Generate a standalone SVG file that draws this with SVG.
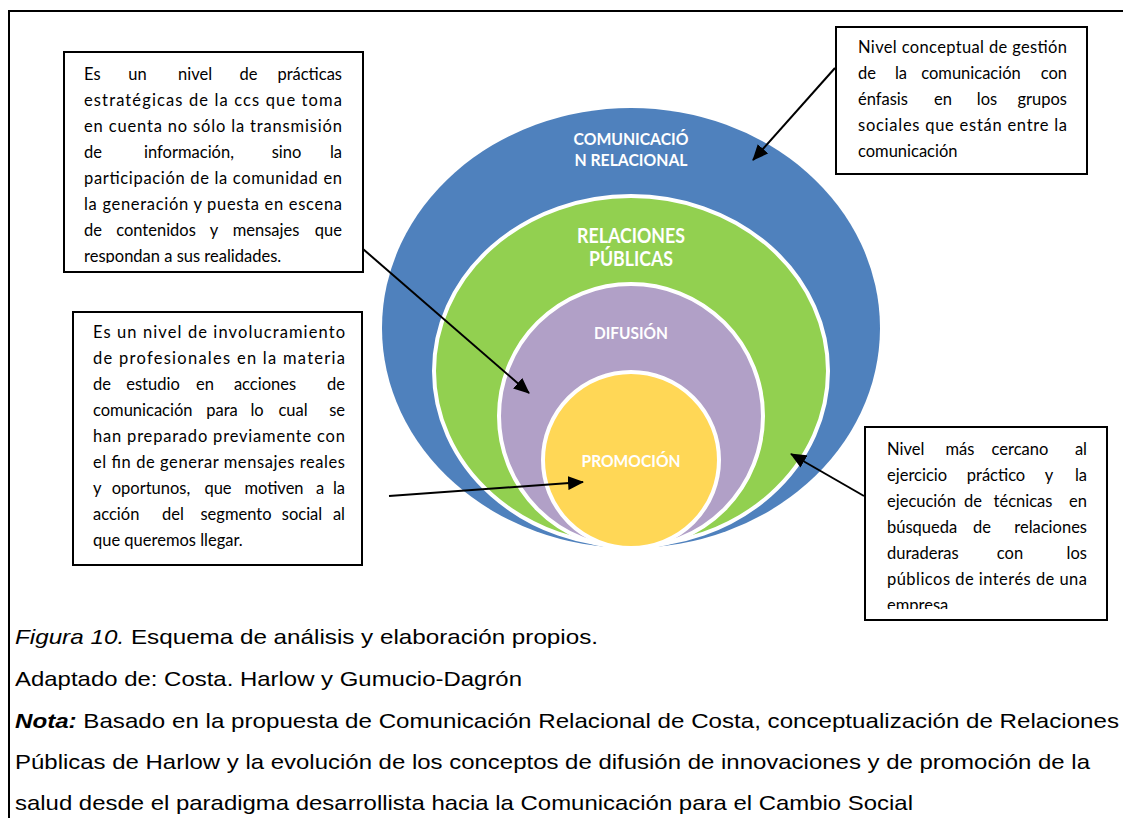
<svg xmlns="http://www.w3.org/2000/svg" width="1123" height="818" viewBox="0 0 1123 818">
  <defs>
    <style>
      .frame { fill: none; stroke: #000; stroke-width: 2; }
      .box { fill: #fff; stroke: #000; stroke-width: 2; }
      .ring { stroke: #fff; stroke-width: 4; }
      .t { font-family: Lato, "Liberation Sans", sans-serif; font-size: 16.5px; fill: #000; }
      .m { text-anchor: middle; }
      .e { text-anchor: end; }
      .lbl { font-family: Lato, "Open Sans", sans-serif; font-weight: bold; fill: #fff; text-anchor: middle; }
      .cap { font-family: "Liberation Sans", Arial, sans-serif; font-size: 21px; fill: #000; }
      .conn { stroke: #000; stroke-width: 2; fill: none; marker-end: url(#head); }
    </style>
    <marker id="head" viewBox="0 0 16 14" refX="15" refY="7" markerWidth="16" markerHeight="14" markerUnits="userSpaceOnUse" orient="auto">
      <path d="M0,0 L16,7 L0,14 Z" fill="#000"/>
    </marker>
    <clipPath id="clip-practicas"><rect x="65" y="53" width="297" height="210"/></clipPath>
    <clipPath id="clip-cercano"><rect x="866" y="428" width="240" height="181"/></clipPath>
  </defs>

  <rect x="0" y="0" width="1123" height="818" fill="#fff"/>
  <!-- outer frame: top and left edges -->
  <polyline class="frame" points="9,818 9,11 1125,11"/>

  <!-- nested levels -->
  <g id="comunicacion-relacional">
    <ellipse cx="631" cy="328" rx="249" ry="220" fill="#4F81BD"/>
    <text class="lbl" x="631" y="145" font-size="17" textLength="115" lengthAdjust="spacingAndGlyphs">COMUNICACIÓ</text>
    <text class="lbl" x="631" y="166" font-size="17" textLength="113" lengthAdjust="spacingAndGlyphs">N RELACIONAL</text>
  </g>
  <g id="relaciones-publicas">
    <ellipse class="ring" cx="631" cy="371" rx="197" ry="175" fill="#92D050"/>
    <text class="lbl" x="631" y="243" font-size="20" textLength="108" lengthAdjust="spacingAndGlyphs">RELACIONES</text>
    <text class="lbl" x="631" y="266" font-size="20" textLength="84" lengthAdjust="spacingAndGlyphs">PÚBLICAS</text>
  </g>
  <g id="difusion">
    <ellipse class="ring" cx="631" cy="416" rx="132" ry="132" fill="#B1A0C7"/>
    <text class="lbl" x="631" y="339" font-size="17" textLength="74" lengthAdjust="spacingAndGlyphs">DIFUSIÓN</text>
  </g>
  <g id="promocion">
    <ellipse class="ring" cx="631" cy="460" rx="88" ry="88" fill="#FFD756"/>
    <text class="lbl" x="631" y="467" font-size="17" textLength="99" lengthAdjust="spacingAndGlyphs">PROMOCIÓN</text>
  </g>

  <!-- description boxes -->
  <g id="nota-practicas">
    <rect class="box" x="64" y="52" width="299" height="220"/>
    <g class="t" clip-path="url(#clip-practicas)">
      <text x="84" y="80">Es</text><text class="m" x="137.5" y="80">un</text><text class="m" x="195" y="80">nivel</text><text class="m" x="248.5" y="80">de</text><text class="e" x="342" y="80">prácticas</text>
      <text x="84" y="106" textLength="258" lengthAdjust="spacing">estratégicas de la ccs que toma</text>
      <text x="84" y="132" textLength="258" lengthAdjust="spacing">en cuenta no sólo la transmisión</text>
      <text x="84" y="158">de</text><text class="m" x="189" y="158">información,</text><text class="m" x="286.5" y="158">sino</text><text class="e" x="342" y="158">la</text>
      <text x="84" y="184" textLength="258" lengthAdjust="spacing">participación de la comunidad en</text>
      <text x="84" y="210" textLength="258" lengthAdjust="spacing">la generación y puesta en escena</text>
      <text x="84" y="236">de</text><text class="m" x="156" y="236">contenidos</text><text class="m" x="214" y="236">y</text><text class="m" x="266" y="236">mensajes</text><text class="e" x="342" y="236">que</text>
      <text x="84" y="262">respondan a sus realidades.</text>
    </g>
  </g>

  <g id="nota-involucramiento">
    <rect class="box" x="73" y="312" width="289" height="253"/>
    <g class="t">
      <text x="93" y="338" textLength="252" lengthAdjust="spacing">Es un nivel de involucramiento</text>
      <text x="93" y="364" textLength="252" lengthAdjust="spacing">de profesionales en la materia</text>
      <text x="93" y="390">de</text><text class="m" x="153" y="390">estudio</text><text class="m" x="205" y="390">en</text><text class="m" x="265" y="390">acciones</text><text class="e" x="345" y="390">de</text>
      <text x="93" y="416">comunicación</text><text class="m" x="222" y="416">para</text><text class="m" x="257" y="416">lo</text><text class="m" x="293" y="416">cual</text><text class="e" x="345" y="416">se</text>
      <text x="93" y="442" textLength="252" lengthAdjust="spacing">han preparado previamente con</text>
      <text x="93" y="468" textLength="252" lengthAdjust="spacing">el fin de generar mensajes reales</text>
      <text x="93" y="494">y</text><text class="m" x="151" y="494">oportunos,</text><text class="m" x="218" y="494">que</text><text class="m" x="274" y="494">motiven</text><text class="m" x="320" y="494">a</text><text class="e" x="345" y="494">la</text>
      <text x="93" y="520">acción</text><text class="m" x="173" y="520">del</text><text class="m" x="236" y="520">segmento</text><text class="m" x="302" y="520">social</text><text class="e" x="345" y="520">al</text>
      <text x="93" y="546">que queremos llegar.</text>
    </g>
  </g>

  <g id="nota-conceptual">
    <rect class="box" x="836" y="27" width="251" height="147"/>
    <g class="t">
      <text x="858" y="53" textLength="209" lengthAdjust="spacing">Nivel conceptual de gestión</text>
      <text x="858" y="79">de</text><text class="m" x="901" y="79">la</text><text class="m" x="971" y="79">comunicación</text><text class="e" x="1067" y="79">con</text>
      <text x="858" y="105">énfasis</text><text class="m" x="943" y="105">en</text><text class="m" x="987" y="105">los</text><text class="e" x="1067" y="105">grupos</text>
      <text x="858" y="131" textLength="209" lengthAdjust="spacing">sociales que están entre la</text>
      <text x="858" y="157">comunicación</text>
    </g>
  </g>

  <g id="nota-cercano">
    <rect class="box" x="865" y="427" width="242" height="193"/>
    <g class="t" clip-path="url(#clip-cercano)">
      <text x="887" y="455">Nivel</text><text class="m" x="960" y="455">más</text><text class="m" x="1020" y="455">cercano</text><text class="e" x="1087" y="455">al</text>
      <text x="887" y="481">ejercicio</text><text class="m" x="996" y="481">práctico</text><text class="m" x="1049" y="481">y</text><text class="e" x="1087" y="481">la</text>
      <text x="887" y="507">ejecución</text><text class="m" x="973" y="507">de</text><text class="m" x="1023" y="507">técnicas</text><text class="e" x="1087" y="507">en</text>
      <text x="887" y="533">búsqueda</text><text class="m" x="982" y="533">de</text><text class="e" x="1087" y="533">relaciones</text>
      <text x="887" y="559">duraderas</text><text class="m" x="1010" y="559">con</text><text class="e" x="1087" y="559">los</text>
      <text x="887" y="585" textLength="200" lengthAdjust="spacing">públicos de interés de una</text>
      <text x="887" y="611">empresa</text>
    </g>
  </g>

  <!-- connectors -->
  <g id="connectors">
    <line class="conn" x1="835" y1="68" x2="753" y2="160"/>
    <line class="conn" x1="363" y1="249" x2="529" y2="393"/>
    <line class="conn" x1="389" y1="496" x2="583" y2="482"/>
    <line class="conn" x1="864" y1="496" x2="791" y2="454"/>
  </g>

  <!-- caption -->
  <g id="caption" class="cap">
    <text x="15" y="644" textLength="583" lengthAdjust="spacingAndGlyphs"><tspan font-style="italic">Figura</tspan><tspan font-style="italic" dx="6">10.</tspan> Esquema de análisis y elaboración propios.</text>
    <text x="15" y="686" textLength="507" lengthAdjust="spacingAndGlyphs">Adaptado de: Costa. Harlow y Gumucio-Dagrón</text>
    <text x="15" y="728" textLength="1104" lengthAdjust="spacingAndGlyphs"><tspan font-weight="bold" font-style="italic">Nota:</tspan> Basado<tspan dx="6">en la propuesta de Comunicación Relacional de Costa, conceptualización de Relaciones</tspan></text>
    <text x="15" y="769" textLength="1075" lengthAdjust="spacingAndGlyphs">Públicas de Harlow y la evolución de los conceptos de difusión de innovaciones y de promoción de la</text>
    <text x="15" y="810" textLength="898" lengthAdjust="spacingAndGlyphs">salud desde el paradigma desarrollista hacia la Comunicación para el Cambio Social</text>
  </g>
</svg>
